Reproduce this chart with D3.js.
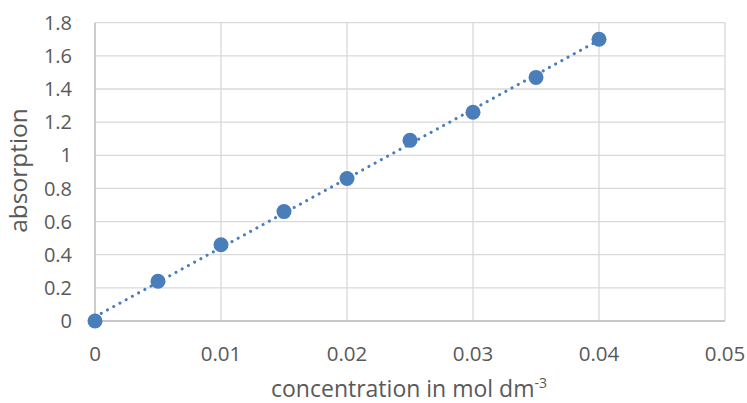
<!DOCTYPE html>
<html><head><meta charset="utf-8">
<script src="https://cdn.jsdelivr.net/npm/d3@7"></script>
<style>body{margin:0;background:#fff}svg{display:block}text{font-family:"Open Sans","Liberation Sans",sans-serif;fill:#595959}</style>
</head><body><svg id="c" width="747" height="403"></svg>
<script>
const concentration = [0, 0.005, 0.01, 0.015, 0.02, 0.025, 0.03, 0.035, 0.04];
const absorption = [0, 0.24, 0.46, 0.66, 0.86, 1.09, 1.26, 1.47, 1.70];
const xTicks = [0, 0.01, 0.02, 0.03, 0.04, 0.05];
const yTicks = [0, 0.2, 0.4, 0.6, 0.8, 1, 1.2, 1.4, 1.6, 1.8];
const xTitle = "concentration in mol dm";
const yTitle = "absorption";

const svg = d3.select("#c");
const L = 95, R = 725, T = 22.7, B = 321;
const x = d3.scaleLinear().domain([0, 0.05]).range([L, R]);
const y = d3.scaleLinear().domain([0, 1.8]).range([B, T]);

// gridlines
svg.append("g").selectAll("line").data(yTicks).join("line")
  .attr("x1", L).attr("x2", R).attr("y1", d => y(d)).attr("y2", d => y(d))
  .attr("stroke", "#d9d9d9").attr("stroke-width", 1.3);
svg.append("g").selectAll("line").data(xTicks).join("line")
  .attr("x1", d => x(d)).attr("x2", d => x(d)).attr("y1", T).attr("y2", B)
  .attr("stroke", "#d9d9d9").attr("stroke-width", 1.3);
// axis lines
svg.append("line").attr("x1", L).attr("x2", L).attr("y1", T).attr("y2", B).attr("stroke", "#bfbfbf").attr("stroke-width", 1.3);
svg.append("line").attr("x1", L).attr("x2", R).attr("y1", B).attr("y2", B).attr("stroke", "#bfbfbf").attr("stroke-width", 1.3);

// tick labels
svg.append("g").selectAll("text").data(yTicks).join("text")
  .attr("x", 72).attr("y", d => y(d)).attr("dy", "0.36em").attr("text-anchor", "end")
  .attr("font-size", 20).text(d => String(+d.toFixed(1)));
svg.append("g").selectAll("text").data(xTicks).join("text")
  .attr("x", d => x(d)).attr("y", 353.5).attr("dy", "0.36em").attr("text-anchor", "middle")
  .attr("font-size", 20.5).text(d => String(+d.toFixed(2)));

// titles
const xt = svg.append("text").attr("x", 409).attr("y", 396.5).attr("text-anchor", "middle").attr("font-size", 23);
xt.append("tspan").text(xTitle);
xt.append("tspan").attr("dy", -9).attr("font-size", 14).text("-3");
svg.append("text").attr("transform", "translate(27,170.5) rotate(-90)").attr("text-anchor", "middle")
  .attr("font-size", 24.5).text(yTitle);

// linear trendline
const n = concentration.length;
const mx = d3.mean(concentration), my = d3.mean(absorption);
let sxy = 0, sxx = 0;
for (let i = 0; i < n; i++) { sxy += (concentration[i]-mx)*(absorption[i]-my); sxx += (concentration[i]-mx)**2; }
const slope = sxy / sxx, intercept = my - slope * mx;
const x0 = d3.min(concentration), x1 = d3.max(concentration);
svg.append("line").attr("x1", x(x0)).attr("y1", y(intercept + slope*x0))
  .attr("x2", x(x1)).attr("y2", y(intercept + slope*x1))
  .attr("stroke", "#4a7ebb").attr("stroke-width", 3).attr("stroke-linecap", "round")
  .attr("stroke-dasharray", "0.1,7");

// markers
svg.append("g").selectAll("circle").data(concentration).join("circle")
  .attr("cx", d => x(d)).attr("cy", (d, i) => y(absorption[i])).attr("r", 7.5)
  .attr("fill", "#4a7ebb");
</script></body></html>
